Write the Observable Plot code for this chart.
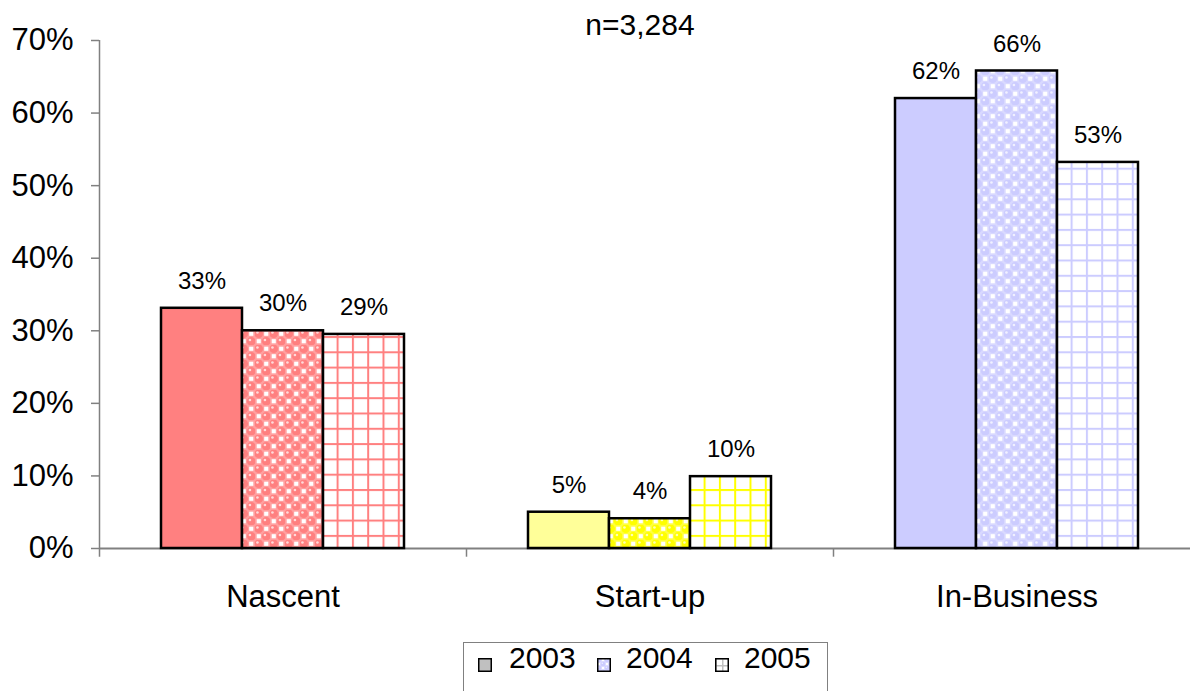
<!DOCTYPE html>
<html>
<head>
<meta charset="utf-8">
<script src="https://cdn.jsdelivr.net/npm/d3@7"></script>
<script src="https://cdn.jsdelivr.net/npm/@observablehq/plot@0.6"></script>
<style>
  html, body { margin: 0; padding: 0; background: #fff; }
  body { width: 1190px; height: 691px; overflow: hidden; position: relative; font-family: "Liberation Sans", Arial, sans-serif; color: #000; }
  #title { position: absolute; left: 640px; top: 10px; transform: translateX(-50%); font-size: 30px; line-height: 30px; white-space: nowrap; }
  #chart { position: absolute; left: 0; top: 30px; }
  #legend { position: absolute; left: 463px; top: 642px; width: 365px; height: 70px; border: 1.5px solid #808080; box-sizing: border-box; background: #fff; }
  #legend .sw { position: absolute; top: 15px; width: 14px; height: 14px; }
  #legend .lb { position: absolute; top: 0px; font-size: 30px; line-height: 30px; }
</style>
</head>
<body>
<div id="title"></div>
<div id="chart"></div>
<div id="legend"></div>
<script>
// ---- data ----
const titleText = "n=3,284";
const categories = ["Nascent", "Start-up", "In-Business"];
const years = ["2003", "2004", "2005"];
const nascent = [33.1, 30.0, 29.5];
const startUp = [5.0, 4.1, 9.9];
const inBusiness = [62.0, 65.8, 53.2];
const valueLabels = ["33%", "30%", "29%", "5%", "4%", "10%", "62%", "66%", "53%"];
const yTicks = [0, 10, 20, 30, 40, 50, 60, 70];

// ---- styles ----
const solidColors = ["#FF8080", "#FFFF99", "#CCCCFF"];
const patternColors = ["#FF8080", "#FFFF00", "#CCCCFF"];
const legendSolid = "#C0C0C0";

const series = [nascent, startUp, inBusiness];
const rows = [];
categories.forEach((c, i) => years.forEach((y, j) => rows.push({
  category: c, year: y, value: series[i][j], label: valueLabels[i * years.length + j], ci: i, yi: j
})));

function fillFor(d) {
  if (d.yi === 0) return solidColors[d.ci];
  return d.yi === 1 ? `url(#sph-${d.ci})` : `url(#grid-${d.ci})`;
}

const font = "Liberation Sans, Arial, sans-serif";
const chart = Plot.plot({
  width: 1190,
  height: 610,
  marginLeft: 99,
  marginRight: -10,
  marginTop: 10,
  marginBottom: 92,
  style: { fontFamily: font, fontSize: "31px", color: "#000", background: "transparent", overflow: "visible" },
  fx: { domain: categories, paddingInner: 0, paddingOuter: 0 },
  x: { domain: years, paddingInner: 0, paddingOuter: 0.765, axis: null },
  y: { domain: [0, 70] },
  color: { type: "identity" },
  marks: [
    Plot.axisY(yTicks, { tickFormat: d => d + "%", tickSize: 8, tickPadding: 18, stroke: "#808080", strokeWidth: 1.5, fill: "#000", fontSize: 31, label: null }),
    Plot.axisFx({ anchor: "bottom", tickSize: 0, tickPadding: 36, fontSize: 31, label: null }),
    Plot.ruleY([0], { stroke: "#808080", strokeWidth: 2 }),
    Plot.ruleX(categories, {
      fx: d => d, x: () => years[0],
      y1: d => d === categories[0] ? 70 : 0, y2: -1.2,
      dx: -102.5, stroke: "#808080", strokeWidth: 1.5
    }),
    Plot.barY(rows, { fx: "category", x: "year", y: "value", fill: fillFor, stroke: "#000", strokeWidth: 2.5 }),
    Plot.text(rows, { fx: "category", x: "year", y: "value", text: "label", dy: -27, fontSize: 24, fill: "#000" })
  ]
});

// pattern definitions
const svg = d3.select(chart);
const defs = svg.insert("defs", ":first-child");
function sphere(id, color, size) {
  const p = defs.append("pattern").attr("id", id).attr("patternUnits", "userSpaceOnUse").attr("width", size).attr("height", size);
  const h = size / 2, q = size / 4;
  p.append("rect").attr("width", size).attr("height", size).attr("fill", color).attr("opacity", 0.75);
  p.append("rect").attr("width", size).attr("height", size).attr("fill", "#fff").attr("opacity", 0.0);
  [[q, q], [q + h, q + h]].forEach(([cx, cy]) => {
    p.append("circle").attr("cx", cx).attr("cy", cy).attr("r", q * 1.15).attr("fill", color);
    p.append("circle").attr("cx", cx - q * 0.35).attr("cy", cy - q * 0.35).attr("r", q * 0.35).attr("fill", "#fff").attr("opacity", 0.7);
  });
  [[q + h, q], [q, q + h]].forEach(([cx, cy]) => {
    p.append("rect").attr("x", cx - q * 0.55).attr("y", cy - q * 0.55).attr("width", q * 1.1).attr("height", q * 1.1).attr("fill", "#fff");
  });
}
function grid(id, color, size, w) {
  const p = defs.append("pattern").attr("id", id).attr("patternUnits", "userSpaceOnUse").attr("width", size).attr("height", size);
  p.append("rect").attr("width", size).attr("height", size).attr("fill", "#fff");
  p.append("rect").attr("x", 0).attr("y", 0).attr("width", w).attr("height", size).attr("fill", color);
  p.append("rect").attr("x", 0).attr("y", 0).attr("width", size).attr("height", w).attr("fill", color);
}
patternColors.forEach((c, i) => { sphere(`sph-${i}`, c, 15); grid(`grid-${i}`, c, 15.3, 2); });
sphere("sph-leg", "#CCCCFF", 8);
grid("grid-leg", "#C0C0C0", 7, 1.5);

document.getElementById("chart").appendChild(chart);
document.getElementById("title").textContent = titleText;

// legend
const legend = d3.select("#legend");
const swFills = [legendSolid, "url(#sph-leg)", "url(#grid-leg)"];
const swX = [14, 133, 251];
const lbX = [45, 162, 280];
years.forEach((y, j) => {
  const s = legend.append("svg").attr("class", "sw").style("left", swX[j] + "px").attr("width", 14).attr("height", 14);
  s.append("rect").attr("x", 0.75).attr("y", 0.75).attr("width", 12.5).attr("height", 12.5).attr("fill", swFills[j]).attr("stroke", "#000").attr("stroke-width", 1.5);
  legend.append("div").attr("class", "lb").style("left", lbX[j] + "px").text(y);
});
</script>
</body>
</html>
